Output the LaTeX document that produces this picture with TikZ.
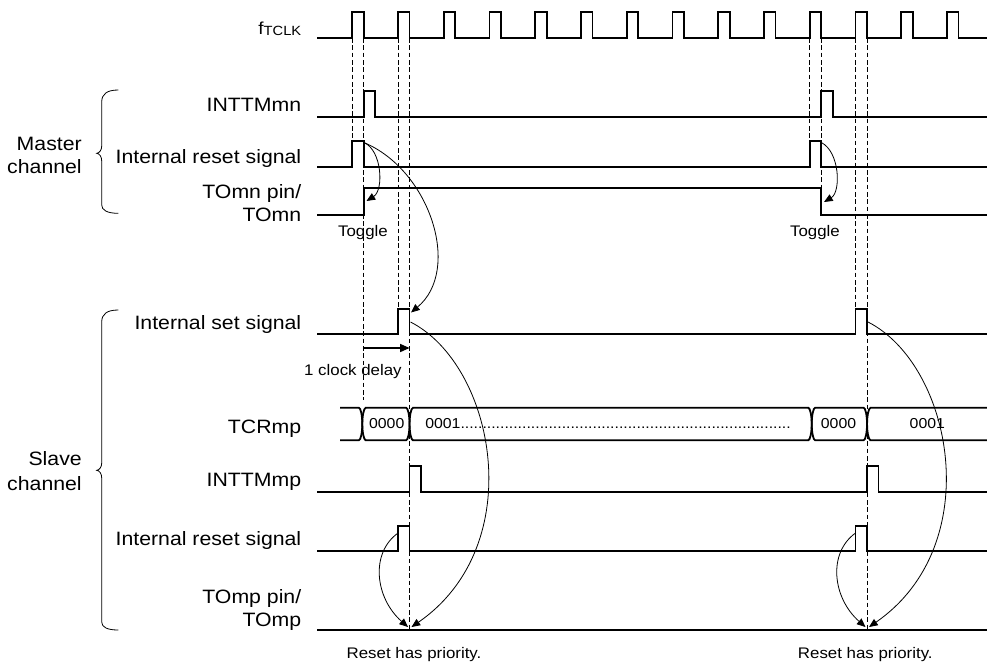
\documentclass[tikz,border=0pt]{standalone}
\usepackage{fontspec}
\setmainfont{Liberation Sans}[FakeStretch=1.1]
\usetikzlibrary{arrows.meta}
\begin{document}
\begin{tikzpicture}[x=0.75pt,y=-0.75pt,
  sig/.style={line width=1.35pt, line join=miter},
  dsh/.style={line width=0.6pt, dash pattern=on 3.5pt off 2pt},
  thn/.style={line width=0.6pt},
  arr/.style={thn,-{Triangle[length=6.5pt,width=5.5pt]}},
  lbl/.style={anchor=base east, inner sep=0pt, font=\fontsize{14.5}{17}\selectfont},
  sml/.style={anchor=base, inner sep=0pt, font=\fontsize{11.5}{14}\selectfont},
  bus/.style={anchor=base, inner sep=0pt, font=\fontsize{10.8}{13}\selectfont},
  brc/.style={line width=0.6pt}]
\useasboundingbox (0,0) rectangle (987,665);
\def\eRa{352.3}\def\eFa{363.8}
\def\eRb{398.05}\def\eFb{409.55}
\def\eRk{809.8}\def\eFk{821.3}
\def\eRl{855.55}\def\eFl{867.05}

% ---------- labels ----------
\node[lbl] (lclk) at (301.5,34) {\fontsize{13}{15}\selectfont f\raisebox{-1.2pt}{\fontsize{10}{12}\selectfont TCLK}};
\node[lbl] (lintn) at (301.5,111) {INTTMmn};
\node[lbl] (lrstn) at (301.5,163.3) {Internal reset signal};
\node[lbl] (ltonA) at (301.5,198.3) {TOmn pin/};
\node[lbl] (ltonB) at (301.5,221.7) {TOmn};
\node[lbl] (lmasA) at (82,150) {Master};
\node[lbl] (lmasB) at (82,173.3) {channel};

\node[lbl] (lset) at (301.5,329.3) {Internal set signal};
\node[lbl] (ltcr) at (301.5,433.3) {TCRmp};
\node[lbl] (lintp) at (301.5,486.7) {INTTMmp};
\node[lbl] (lrstp) at (301.5,545) {Internal reset signal};
\node[lbl] (ltopA) at (301.5,603.3) {TOmp pin/};
\node[lbl] (ltopB) at (301.5,626.7) {TOmp};
\node[lbl] (lslvA) at (82,465) {Slave};
\node[lbl] (lslvB) at (82,490) {channel};

% ---------- braces ----------
\draw[brc] (118.3,90) .. controls (107,90) and (101.7,94) .. (101.7,102) -- (101.7,146)
  .. controls (101.7,150) and (99.5,153) .. (96.7,153.3)
  .. controls (99.5,153.6) and (101.7,156.5) .. (101.7,161) -- (101.7,205)
  .. controls (101.7,210) and (107,213.3) .. (118.3,213.3);
\draw[brc] (118.3,310) .. controls (107,310) and (101.7,314) .. (101.7,322) -- (101.7,463)
  .. controls (101.7,467) and (99.5,470) .. (96.7,470.3)
  .. controls (99.5,470.6) and (101.7,473.5) .. (101.7,478) -- (101.7,622)
  .. controls (101.7,627) and (107,630) .. (118.3,630);

% ---------- dashed guides ----------
\draw[dsh] (\eRa,38) -- (\eRa,141);
\draw[dsh] (\eFa,38) -- (\eFa,400);
\draw[dsh] (\eRb,38) -- (\eRb,309.3);
\draw[dsh] (\eFb,38) -- (\eFb,630);
\draw[dsh] (\eRk,38) -- (\eRk,141);
\draw[dsh] (\eFk,38) -- (\eFk,215);
\draw[dsh] (\eRl,38) -- (\eRl,309.3);
\draw[dsh] (\eFl,38) -- (\eFl,630);

% ---------- signals ----------
\draw[sig] (317,38) \foreach \k in {0,...,13}{ -- ({352.3+45.75*\k},38) -- ++(0,-26) -- ++(11.5,0) -- ++(0,26)} -- (987,38);

\draw[sig] (317,117.3) -- (\eFa,117.3) -- (\eFa,90.7) -- ({\eFa+11.5},90.7) -- ({\eFa+11.5},117.3)
  -- (\eFk,117.3) -- (\eFk,90.7) -- ({\eFk+11.5},90.7) -- ({\eFk+11.5},117.3) -- (987,117.3);

\draw[sig] (317,166.7) -- (\eRa,166.7) -- (\eRa,141) -- (\eFa,141) -- (\eFa,166.7)
  -- (\eRk,166.7) -- (\eRk,141) -- (\eFk,141) -- (\eFk,166.7) -- (987,166.7);

\draw[sig] (317,215) -- (\eFa,215) -- (\eFa,188.3) -- (\eFk,188.3) -- (\eFk,215) -- (987,215);

\draw[sig] (317,334.3) -- (\eRb,334.3) -- (\eRb,309.3) -- (\eFb,309.3) -- (\eFb,334.3)
  -- (\eRl,334.3) -- (\eRl,309.3) -- (\eFl,309.3) -- (\eFl,334.3) -- (987,334.3);

% TCRmp bus
\draw[sig] (340,407.7) -- (358.8,407.7) .. controls (360.8,407.7) and (362.3,416) .. (362.3,424)
  .. controls (362.3,432) and (360.8,440.3) .. (358.8,440.3) -- (340,440.3);
\foreach \ta/\tb in {362.3/409.55, 409.55/811.7, 811.7/867.05}{
  \draw[sig] (\ta,424) .. controls (\ta,416) and ({\ta+1.5},407.7) .. ({\ta+3.5},407.7) -- ({\tb-3.5},407.7)
    .. controls ({\tb-1.5},407.7) and (\tb,416) .. (\tb,424)
    .. controls (\tb,432) and ({\tb-1.5},440.3) .. ({\tb-3.5},440.3) -- ({\ta+3.5},440.3)
    .. controls ({\ta+1.5},440.3) and (\ta,432) .. (\ta,424) -- cycle;
}
\draw[sig] (987,407.7) -- (870.55,407.7) .. controls (868.55,407.7) and (867.05,416) .. (867.05,424)
  .. controls (867.05,432) and (868.55,440.3) .. (870.55,440.3) -- (987,440.3);
\node[bus] (v1) at (386.7,428.5) {0000};
\node[bus,anchor=base west] (v2) at (425,428.5) {0001...........................................................................};
\node[bus] (v3) at (838.5,428.5) {0000};
\node[bus] (v4) at (927.3,428.5) {0001};

\draw[sig] (317,491.7) -- (\eFb,491.7) -- (\eFb,465.7) -- ({\eFb+11.5},465.7) -- ({\eFb+11.5},491.7)
  -- (\eFl,491.7) -- (\eFl,465.7) -- ({\eFl+11.5},465.7) -- ({\eFl+11.5},491.7) -- (987,491.7);

\draw[sig] (317,551) -- (\eRb,551) -- (\eRb,526) -- (\eFb,526) -- (\eFb,551)
  -- (\eRl,551) -- (\eRl,526) -- (\eFl,526) -- (\eFl,551) -- (987,551);

\draw[sig] (317,630) -- (987,630);

% ---------- coordinates for connectors ----------
\coordinate (mrA) at (\eFa,142.5);
\coordinate (mrB) at (\eFk,142.5);
\coordinate (tgA) at (366.5,201);
\coordinate (tgB) at (824,202);
\coordinate (ssA) at (411,312.5);
\coordinate (ssoA) at (410.5,322);
\coordinate (ssoB) at (868,322);
\coordinate (srA) at (\eRb,533);
\coordinate (srB) at (\eRl,533);
\coordinate (tpA1) at (408,627);
\coordinate (tpA2) at (411.5,627);
\coordinate (tpB1) at (865.5,627);
\coordinate (tpB2) at (869,627);
\coordinate (dlS) at (\eFa,348);
\coordinate (dlE) at (\eFb,348);

% ---------- curved arrows ----------
\draw[arr] (mrA) .. controls (382,150) and (384,190) .. (tgA);
\draw[arr] (mrB) .. controls (840,152) and (841,192) .. (tgB);
\draw[arr] (mrA) .. controls (430,170) and (462,270) .. (ssA);
\draw[arr] (ssoA) .. controls (495,365) and (530,545) .. (tpA2);
\draw[arr] (ssoB) .. controls (952.5,365) and (987.5,545) .. (tpB2);
\draw[arr] (srA) .. controls (370,553) and (375,598) .. (tpA1);
\draw[arr] (srB) .. controls (827.5,553) and (832.5,598) .. (tpB1);
\draw[line width=0.8pt,-{Triangle[length=7pt,width=6pt]}] (dlS) -- (dlE);

% ---------- annotations ----------
\node[sml] (tog1) at (363,236) {Toggle};
\node[sml] (tog2) at (815,236) {Toggle};
\node[sml] (dly) at (352.9,375) {1 clock delay};
\node[sml] (rp1) at (414,658) {Reset has priority.};
\node[sml] (rp2) at (865.3,658) {Reset has priority.};
\end{tikzpicture}
\end{document}
